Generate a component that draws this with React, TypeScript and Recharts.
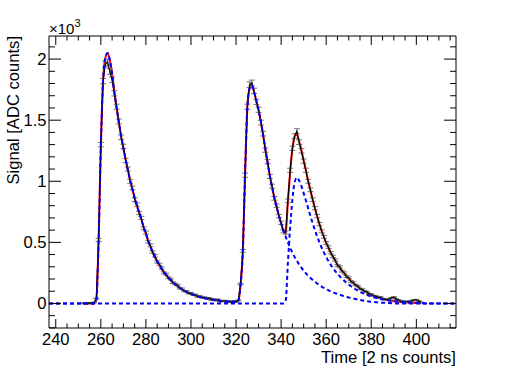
import { LineChart, Line, XAxis, YAxis, ErrorBar } from "recharts";

const FONT = '"Liberation Sans", Arial, Helvetica, sans-serif';
const FS = 16.6;

// time axis range (2 ns counts)
const tMin = 237;
const tMax = 417;

// fitted component: first and second pulse, from t = 257
const pulseAStart = 257;
const pulseA = [
  0, 30, 500, 1280, 1830, 2010, 2050, 1990, 1880, 1730,
  1600, 1480, 1370, 1270, 1180, 1090, 1010, 935, 865, 800,
  745, 685, 625, 570, 515, 465, 420, 380, 345, 312,
  283, 256, 232, 210, 190, 172, 156, 141, 128, 116,
  105, 95, 86, 78, 71, 64, 58, 53, 48, 44,
  40, 36, 33, 30, 27, 25, 22, 20, 18, 16,
  14, 13, 12, 11, 20, 150, 420, 1060, 1600, 1760,
  1785, 1730, 1660, 1580, 1490, 1380, 1265, 1150, 1045, 950,
  865, 790, 720, 655, 598, 548, 500, 455, 415, 380,
  350, 320, 293, 268, 246, 226, 208, 192, 177, 163,
  150, 138, 127, 117, 108, 99, 91, 84, 77, 71,
  65, 59, 54, 49, 44, 40, 36, 32, 28, 25,
  22, 19, 16, 14, 12, 10, 8, 7, 6, 5,
  4, 3, 2, 1,
];

// fitted component: third pulse, from t = 342
const pulseBStart = 342;
const pulseB = [
  20, 330, 620, 850, 990, 1030, 1005, 960, 903, 842,
  778, 716, 657, 600, 548, 500, 456, 416, 380, 347,
  317, 290, 265, 243, 222, 203, 186, 170, 155, 141,
  128, 116, 105, 95, 86, 78, 70, 63, 57, 51,
  46, 41, 37, 33, 29, 26, 23, 20, 18, 16,
  14, 12, 10, 9, 8, 7, 6, 5, 4, 3,
  2, 1,
];

// measured samples, from t = 252
const sampleStart = 252;
const samples = [
  3, -2, 4, 2, 5, 8, 40, 520, 1300, 1820,
  1960, 1975, 1900, 1830, 1720, 1610, 1490, 1360, 1285, 1170,
  1100, 1000, 945, 850, 810, 740, 700, 615, 580, 505,
  475, 420, 390, 340, 320, 290, 250, 240, 210, 200,
  170, 160, 150, 125, 120, 100, 100, 82, 85, 70,
  72, 55, 60, 48, 50, 38, 45, 30, 35, 25,
  32, 15, 20, 22, 12, 18, 10, 20, 14, 25,
  160, 430, 1050, 1610, 1790, 1805, 1740, 1650, 1585, 1480,
  1390, 1255, 1160, 1040, 960, 860, 800, 715, 660, 590,
  580, 840, 1090, 1270, 1370, 1410, 1320, 1250, 1165, 1090,
  1000, 930, 850, 780, 715, 650, 590, 545, 495, 460,
  415, 385, 355, 310, 300, 265, 250, 220, 210, 180,
  172, 150, 142, 120, 115, 100, 95, 78, 75, 62,
  60, 48, 52, 38, 35, 30, 38, 45, 52, 35,
  28, 18, 20, 12, 15, 18, 22, 28, 30, 20,
  8,
];
const sampleErr = [
  3, 3, 3, 3, 3, 3, 4, 12, 18, 22,
  24, 25, 24, 23, 22, 21, 20, 19, 18, 17,
  17, 16, 15, 15, 14, 13, 13, 12, 12, 11,
  11, 10, 10, 9, 9, 9, 8, 8, 8, 7,
  7, 7, 6, 6, 6, 5, 5, 5, 5, 4,
  4, 4, 4, 4, 4, 4, 4, 4, 4, 4,
  4, 4, 4, 4, 4, 4, 4, 4, 4, 4,
  6, 11, 17, 21, 23, 23, 22, 21, 21, 20,
  19, 18, 17, 17, 16, 15, 14, 14, 13, 13,
  12, 15, 17, 18, 19, 20, 19, 18, 17, 17,
  16, 15, 15, 14, 13, 13, 12, 12, 11, 11,
  10, 10, 9, 9, 9, 8, 8, 8, 7, 7,
  7, 6, 6, 6, 5, 5, 5, 5, 5, 4,
  4, 4, 4, 4, 4, 4, 4, 4, 4, 4,
  4, 4, 4, 4, 4, 4, 4, 4, 4, 4,
  4,
];

const xTicks = [
  240, 245, 250, 255, 260, 265, 270, 275, 280, 285, 290, 295,
  300, 305, 310, 315, 320, 325, 330, 335, 340, 345, 350, 355,
  360, 365, 370, 375, 380, 385, 390, 395, 400, 405, 410, 415,
];
const yTicks = [
  -200, -100, 0, 100, 200, 300, 400, 500, 600, 700, 800, 900, 1000,
  1100, 1200, 1300, 1400, 1500, 1600, 1700, 1800, 1900, 2000, 2100,
];
const yLabels: Record<number, string> = {
  0: "0",
  500: "0.5",
  1000: "1",
  1500: "1.5",
  2000: "2",
};

const valueAt = (arr: number[], start: number, t: number) => {
  const i = t - start;
  return i >= 0 && i < arr.length ? arr[i] : 0;
};

const rows: { t: number; a: number; b: number }[] = [];
for (let t = tMin; t <= tMax; t++) {
  rows.push({ t, a: valueAt(pulseA, pulseAStart, t), b: valueAt(pulseB, pulseBStart, t) });
}

const sampleRows = samples.map((v, i) => {
  const t = sampleStart + i;
  return {
    t,
    v,
    err: sampleErr[i],
    fit: valueAt(pulseA, pulseAStart, t) + valueAt(pulseB, pulseBStart, t),
  };
});

const BottomTick = ({ x, y, payload }: any) => {
  const major = payload.value % 20 === 0;
  return (
    <g>
      <line x1={x} x2={x} y1={y} y2={y - (major ? 9 : 4.5)} stroke="#000" />
      {major && (
        <text x={x} y={y + 16.5} textAnchor="middle" fontSize={FS} fontFamily={FONT} fill="#000">
          {payload.value}
        </text>
      )}
    </g>
  );
};

const TopTick = ({ x, y, payload }: any) => {
  const major = payload.value % 20 === 0;
  return <line x1={x} x2={x} y1={y} y2={y + (major ? 9 : 4.5)} stroke="#000" />;
};

const LeftTick = ({ x, y, payload }: any) => {
  const major = payload.value % 500 === 0;
  return (
    <g>
      <line x1={x} x2={x + (major ? 12 : 6)} y1={y} y2={y} stroke="#000" />
      {major && yLabels[payload.value] !== undefined && (
        <text x={x - 2.5} y={y} dy="0.36em" textAnchor="end" fontSize={FS} fontFamily={FONT} fill="#000">
          {yLabels[payload.value]}
        </text>
      )}
    </g>
  );
};

const RightTick = ({ x, y, payload }: any) => {
  const major = payload.value % 500 === 0;
  return <line x1={x} x2={x - (major ? 12 : 6)} y1={y} y2={y} stroke="#000" />;
};

export default function App() {
  return (
    <div style={{ position: "absolute", left: 0, top: 0, width: 508, height: 366, background: "#fff" }}>
      <LineChart
        width={508}
        height={366}
        data={rows}
        margin={{ top: 35, right: 51, bottom: 37, left: 48 }}
      >
        <XAxis
          xAxisId="bottom"
          dataKey="t"
          type="number"
          domain={[237, 417.6]}
          ticks={xTicks}
          interval={0}
          height={1}
          tickSize={0}
          tickMargin={0}
          tickLine={false}
          axisLine={{ stroke: "#000" }}
          tick={<BottomTick />}
          allowDataOverflow
        />
        <XAxis
          xAxisId="top"
          orientation="top"
          dataKey="t"
          type="number"
          domain={[237, 417.6]}
          ticks={xTicks}
          interval={0}
          height={1}
          tickSize={0}
          tickMargin={0}
          tickLine={false}
          axisLine={{ stroke: "#000" }}
          tick={<TopTick />}
          allowDataOverflow
        />
        <YAxis
          yAxisId="left"
          type="number"
          domain={[-201, 2189]}
          ticks={yTicks}
          interval={0}
          width={1}
          tickSize={0}
          tickMargin={0}
          tickLine={false}
          axisLine={{ stroke: "#000" }}
          tick={<LeftTick />}
          allowDataOverflow
        />
        <YAxis
          yAxisId="right"
          orientation="right"
          type="number"
          domain={[-201, 2189]}
          ticks={yTicks}
          interval={0}
          width={1}
          tickSize={0}
          tickMargin={0}
          tickLine={false}
          axisLine={{ stroke: "#000" }}
          tick={<RightTick />}
          allowDataOverflow
        />
        <Line
          xAxisId="bottom"
          yAxisId="left"
          data={sampleRows}
          dataKey="fit"
          type="monotone"
          stroke="#ff0000"
          strokeWidth={2}
          dot={false}
          isAnimationActive={false}
        />
        <Line
          xAxisId="bottom"
          yAxisId="left"
          data={sampleRows}
          dataKey="v"
          type="linear"
          stroke="#000"
          strokeWidth={1.2}
          dot={false}
          isAnimationActive={false}
        >
          <ErrorBar dataKey="err" direction="y" width={3} stroke="#777" strokeWidth={1} />
        </Line>
        <Line
          xAxisId="bottom"
          yAxisId="left"
          dataKey="a"
          type="monotone"
          stroke="#0000ff"
          strokeWidth={2}
          strokeDasharray="4 3"
          dot={false}
          isAnimationActive={false}
        />
        <Line
          xAxisId="bottom"
          yAxisId="left"
          dataKey="b"
          type="monotone"
          stroke="#0000ff"
          strokeWidth={2}
          strokeDasharray="4 3"
          dot={false}
          isAnimationActive={false}
        />
      </LineChart>
      <svg
        width={508}
        height={366}
        style={{ position: "absolute", left: 0, top: 0, pointerEvents: "none" }}
      >
        <text x={49} y={34} fontSize={15} fontFamily={FONT} fill="#000">
          ×10
          <tspan dy={-7} fontSize={11}>3</tspan>
        </text>
        <text
          x={19}
          y={36}
          transform="rotate(-90 19 36)"
          textAnchor="end"
          fontSize={FS}
          fontFamily={FONT}
          fill="#000"
        >
          Signal [ADC counts]
        </text>
        <text x={456} y={362.5} textAnchor="end" fontSize={FS} fontFamily={FONT} fill="#000">
          Time [2 ns counts]
        </text>
      </svg>
    </div>
  );
}
